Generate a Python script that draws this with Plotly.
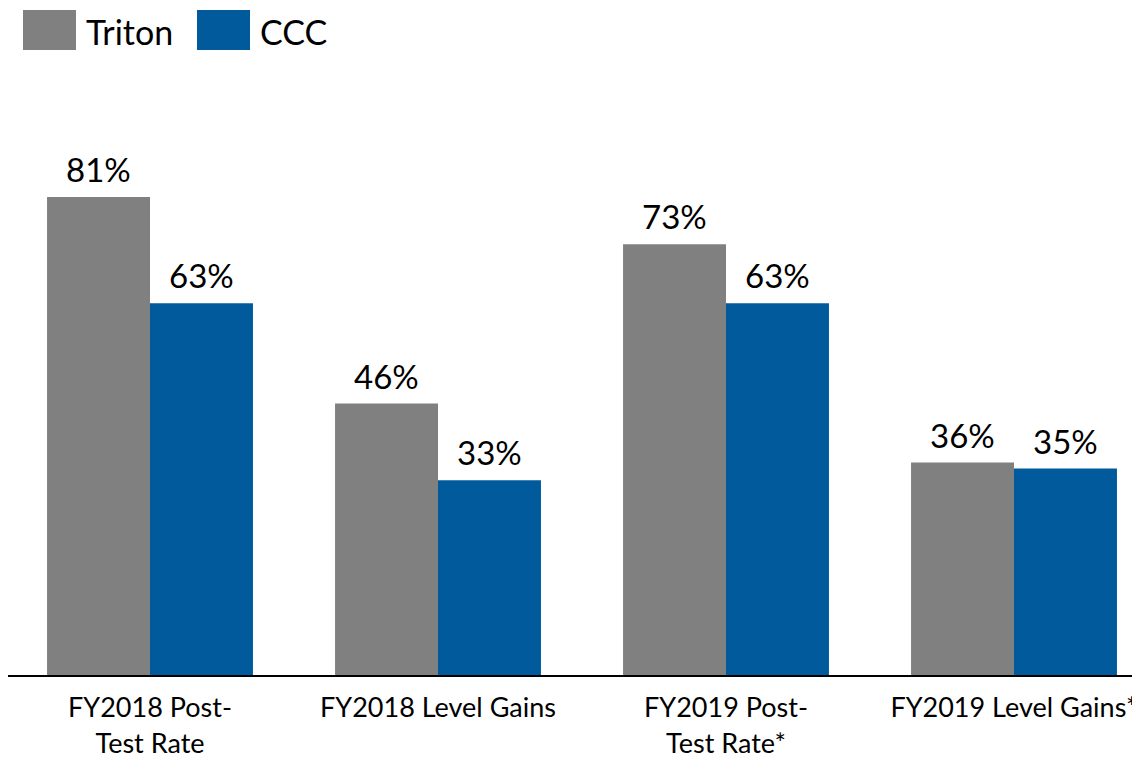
import plotly.graph_objects as go

categories = ["FY2018 Post-<br>Test Rate", "FY2018 Level Gains", "FY2019 Post-<br>Test Rate*", "FY2019 Level Gains*"]
triton = [81, 46, 73, 36]
ccc = [63, 33, 63, 35]
series_names = ["Triton", "CCC"]
colors = ["#808080", "#005A9C"]

FONT = "Lato, Open Sans, sans-serif"
OFF = 8  # page body margin

W, H = 1140 - OFF, 757 - OFF
L, T, B = 0, 80 - OFF, 82
PW, PH = W - L, H - T - B
CAT_PX = 288
BARGAP = 0.285
BAR_PX = CAT_PX * (1 - BARGAP) / 2

fig = go.Figure()
for name, vals, col in zip(series_names, [triton, ccc], colors):
    fig.add_trace(go.Bar(
        name=name, x=categories, y=vals, marker_color=col, marker_line_width=0,
        showlegend=False, hovertemplate="%{y}%<extra>" + name + "</extra>",
    ))

# value labels placed above each bar
for s, (vals, sign) in enumerate(zip([triton, ccc], [-1, 1])):
    for cat, v in zip(categories, vals):
        fig.add_annotation(x=cat, y=v, text=f"{v}%", showarrow=False,
                           xshift=sign * BAR_PX / 2, yshift=6, yanchor="bottom",
                           font=dict(size=33, color="black", family=FONT))

fig.update_layout(
    width=W, height=H,
    margin=dict(l=L, r=0, t=T, b=B, autoexpand=False),
    barmode="group", bargap=BARGAP, bargroupgap=0,
    plot_bgcolor="white", paper_bgcolor="white",
    font=dict(family=FONT, color="black"),
    xaxis=dict(range=[-142 / CAT_PX, -142 / CAT_PX + PW / CAT_PX], showline=True, linecolor="black", linewidth=2,
               ticks="", ticklabelstandoff=8,
               tickfont=dict(size=27, color="black", family=FONT), showgrid=False),
    yaxis=dict(range=[0, PH / 5.9], visible=False, showgrid=False),
)

def px_to_paper_x(px):
    return (px - OFF - L) / PW
def px_to_paper_y(py):
    return (675 - py) / PH

legend_items = [(23, 76, 84), (197, 250, 258)]
for (x0, x1, tx), name, col in zip(legend_items, series_names, colors):
    fig.add_shape(type="rect", xref="paper", yref="paper",
                  x0=px_to_paper_x(x0), x1=px_to_paper_x(x1),
                  y0=px_to_paper_y(50), y1=px_to_paper_y(10),
                  fillcolor=col, line_width=0)
    fig.add_annotation(xref="paper", yref="paper", x=px_to_paper_x(tx), y=px_to_paper_y(31),
                       text=name, showarrow=False, xanchor="left", yanchor="middle",
                       font=dict(size=34, color="black", family=FONT))

fig.write_html("out.html")
